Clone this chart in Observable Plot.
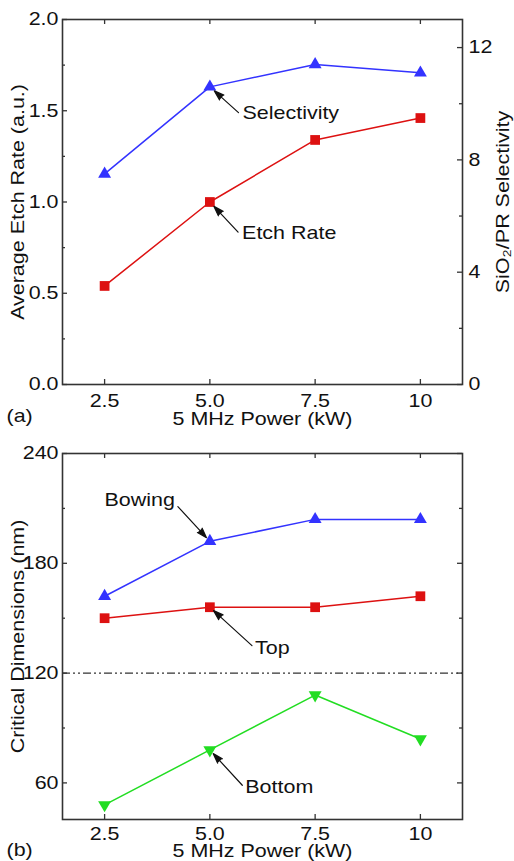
<!DOCTYPE html>
<html>
<head>
<meta charset="utf-8">
<script src="https://cdn.jsdelivr.net/npm/d3@7"></script>
<script src="https://cdn.jsdelivr.net/npm/@observablehq/plot@0.6"></script>
<style>
  body { margin: 0; background: #fff; }
  #chart svg { display: block; }
</style>
</head>
<body>
<div id="chart"></div>
<script>
// ---- data ----------------------------------------------------------------
const powerKW = [2.5, 5.0, 7.5, 10];
const powerTickLabels = ["2.5", "5.0", "7.5", "10"];

// panel (a): etch rate (left axis) and SiO2/PR selectivity (right axis)
const etchRate = [0.54, 1.00, 1.34, 1.46];
const selectivity = [7.5, 10.6, 11.4, 11.1];
const etchTicks = [0, 0.5, 1.0, 1.5, 2.0];
const etchMinorTicks = [0.25, 0.75, 1.25, 1.75];
const selTicks = [0, 4, 8, 12];
const selMinorTicks = [2, 6, 10];

// panel (b): critical dimensions (nm)
const cdBowing = [162, 192, 204, 204];
const cdTop = [150, 156, 156, 162];
const cdBottom = [48, 78, 108, 84];
const cdTicks = [60, 120, 180, 240];
const cdMinorTicks = [90, 150, 210];
const cdReference = [120];

// annotation labels: text, arrow tail (data units), series index the arrow points at
const notesA = [
  {text: "Selectivity", x: 5.68, y: 1.49, series: "sel", i: 1},
  {text: "Etch Rate", x: 5.67, y: 0.835, series: "etch", i: 1}
];
const notesB = [
  {text: "Bowing", x: 4.24, y: 211, series: "bow", i: 1, side: "left"},
  {text: "Top", x: 6.0, y: 135, series: "top", i: 1},
  {text: "Bottom", x: 5.77, y: 58.7, series: "bot", i: 1}
];

// ---- shared look ---------------------------------------------------------
const W = 514;
const FONT = "'Liberation Sans', Arial, Helvetica, sans-serif";
const FONT_SIZE = "18.5px";
const TEXT_WIDEN = 1.16; // glyphs are drawn a little wider than the font's own
const INK = "#333";
const BLUE = "#3333ff", RED = "#dd1111", GREEN = "#22dd22";
const xDomain = [1.5, 11];
const selMax = 13, etchMax = 2;
const k = etchMax / selMax; // maps selectivity onto the etch-rate scale

function inwardTicks({plotW, plotH, yMajor, yMinor, xMajor, rightMajor, rightMinor}) {
  const st = {stroke: INK, strokeWidth: 1.3};
  const marks = [];
  const yl = (vals, len) => Plot.tickY(vals, {y: d => d, insetRight: plotW - len, ...st});
  const yr = (vals, len) => Plot.tickY(vals, {y: d => d, insetLeft: plotW - len, ...st});
  marks.push(yl(yMajor, 5), yl(yMinor, 3));
  marks.push(yr(rightMajor, 5), yr(rightMinor, 3));
  marks.push(Plot.tickX(xMajor, {x: d => d, insetTop: plotH - 5, ...st}));
  marks.push(Plot.tickX(xMajor, {x: d => d, insetBottom: plotH - 5, ...st}));
  return marks;
}

const fmtX = d => powerTickLabels[powerKW.indexOf(d)];
const baseStyle = {fontFamily: FONT, fontSize: FONT_SIZE, color: "#111", background: "#fff"};
const title = {lineAnchor: "middle", textAnchor: "middle", fill: "#111", text: d => d};

// ---- panel (a) -----------------------------------------------------------
const mA = {top: 19, right: 52, bottom: 46, left: 62};
const hA = 430;
const etchData = powerKW.map((p, i) => ({p, v: etchRate[i]}));
const selData = powerKW.map((p, i) => ({p, v: selectivity[i] * k}));
const seriesA = {etch: etchData, sel: selData};
const arrowsA = notesA.map(n => ({...n, x2: seriesA[n.series][n.i].p, y2: seriesA[n.series][n.i].v}));

const plotA = Plot.plot({
  width: W, height: hA,
  marginTop: mA.top, marginRight: mA.right, marginBottom: mA.bottom, marginLeft: mA.left,
  style: baseStyle,
  x: {domain: xDomain},
  y: {domain: [0, etchMax]},
  marks: [
    ...inwardTicks({
      plotW: W - mA.left - mA.right, plotH: hA - mA.top - mA.bottom,
      yMajor: etchTicks, yMinor: etchMinorTicks, xMajor: powerKW,
      rightMajor: selTicks.map(v => v * k), rightMinor: selMinorTicks.map(v => v * k)
    }),
    Plot.axisX(powerKW, {tickSize: 0, tickPadding: 9, tickFormat: fmtX, label: null}),
    Plot.axisY(etchTicks, {anchor: "left", tickSize: 0, tickPadding: 4, tickFormat: d => d.toFixed(1), label: null}),
    Plot.axisY(selTicks.map(v => v * k), {anchor: "right", tickSize: 0, tickPadding: 6,
      tickFormat: d => String(Math.round(d / k)), label: null}),
    Plot.line(selData, {x: "p", y: "v", stroke: BLUE, strokeWidth: 1.5}),
    Plot.line(etchData, {x: "p", y: "v", stroke: RED, strokeWidth: 1.5}),
    Plot.dot(selData, {x: "p", y: "v", symbol: "triangle", r: 4.8, fill: BLUE}),
    Plot.dot(etchData, {x: "p", y: "v", symbol: "square", r: 5.5, fill: RED}),
    Plot.arrow(arrowsA, {x1: "x", y1: "y", x2: "x2", y2: "y2", insetEnd: 6,
      headLength: 13, headAngle: 36, stroke: "#111", fill: "#111", strokeWidth: 1.2}),
    Plot.text(arrowsA, {x: "x", y: "y", text: "text", textAnchor: "start", dx: 4, dy: 1, fill: "#111"}),
    Plot.frame({stroke: INK, strokeWidth: 1.6}),
    Plot.text(["Average Etch Rate (a.u.)"], {...title, frameAnchor: "left", rotate: -90, dx: -44}),
    Plot.text(["SiO\u2082/PR Selectivity"], {...title, frameAnchor: "right", rotate: -90, dx: 41}),
    Plot.text(["5 MHz Power (kW)"], {...title, frameAnchor: "bottom", dy: 35}),
    Plot.text(["(a)"], {...title, frameAnchor: "bottom-left", textAnchor: "start", dx: -56, dy: 32})
  ]
});

// ---- panel (b) -----------------------------------------------------------
const mB = {top: 23, right: 52, bottom: 42, left: 62};
const hB = 431;
const bowData = powerKW.map((p, i) => ({p, v: cdBowing[i]}));
const topData = powerKW.map((p, i) => ({p, v: cdTop[i]}));
const botData = powerKW.map((p, i) => ({p, v: cdBottom[i]}));
const seriesB = {bow: bowData, top: topData, bot: botData};
const arrowsB = notesB.map(n => ({...n, x2: seriesB[n.series][n.i].p, y2: seriesB[n.series][n.i].v}));

const plotB = Plot.plot({
  width: W, height: hB,
  marginTop: mB.top, marginRight: mB.right, marginBottom: mB.bottom, marginLeft: mB.left,
  style: baseStyle,
  x: {domain: xDomain},
  y: {domain: [40, 240]},
  marks: [
    ...inwardTicks({
      plotW: W - mB.left - mB.right, plotH: hB - mB.top - mB.bottom,
      yMajor: cdTicks, yMinor: cdMinorTicks, xMajor: powerKW,
      rightMajor: cdTicks, rightMinor: cdMinorTicks
    }),
    Plot.axisX(powerKW, {tickSize: 0, tickPadding: 7, tickFormat: fmtX, label: null}),
    Plot.axisY(cdTicks, {anchor: "left", tickSize: 0, tickPadding: 4, tickFormat: d => String(d), label: null}),
    Plot.ruleY(cdReference, {stroke: INK, strokeWidth: 1.4, strokeDasharray: "8,3,2,3,2,3"}),
    Plot.line(bowData, {x: "p", y: "v", stroke: BLUE, strokeWidth: 1.5}),
    Plot.line(topData, {x: "p", y: "v", stroke: RED, strokeWidth: 1.5}),
    Plot.line(botData, {x: "p", y: "v", stroke: GREEN, strokeWidth: 1.5}),
    Plot.dot(bowData, {x: "p", y: "v", symbol: "triangle", r: 4.8, fill: BLUE}),
    Plot.dot(topData, {x: "p", y: "v", symbol: "square", r: 5.5, fill: RED}),
    Plot.dot(botData, {x: "p", y: "v", symbol: "triangle", rotate: 180, r: 4.8, fill: GREEN}),
    Plot.arrow(arrowsB, {x1: "x", y1: "y", x2: "x2", y2: "y2", insetEnd: 5,
      headLength: 13, headAngle: 36, stroke: "#111", fill: "#111", strokeWidth: 1.2}),
    Plot.text(arrowsB.filter(n => n.side === "left"), {x: "x", y: "y", text: "text", textAnchor: "end", dx: -3, dy: -6, fill: "#111"}),
    Plot.text(arrowsB.filter(n => n.side !== "left"), {x: "x", y: "y", text: "text", textAnchor: "start", dx: 3, dy: 2, fill: "#111"}),
    Plot.frame({stroke: INK, strokeWidth: 1.6}),
    Plot.text(["Critical Dimensions (nm)"], {...title, frameAnchor: "left", rotate: -90, dx: -44}),
    Plot.text(["5 MHz Power (kW)"], {...title, frameAnchor: "bottom", dy: 32}),
    Plot.text(["(b)"], {...title, frameAnchor: "bottom-left", textAnchor: "start", dx: -56, dy: 31})
  ]
});

const root = document.getElementById("chart");
root.append(plotA, plotB);

// Stretch every label along its baseline to the wider lettering of the figure.
// The text is re-anchored at its start and shifted by hand so that centred and
// right-aligned labels keep their anchor point after stretching.
for (const svg of [plotA, plotB]) {
  svg.querySelectorAll("text").forEach(t => {
    const len = t.getComputedTextLength();
    if (!(len > 0)) return;
    const wide = len * TEXT_WIDEN;
    const anchor = getComputedStyle(t).textAnchor;
    const shift = anchor === "middle" ? -wide / 2 : anchor === "end" ? -wide : 0;
    const x0 = parseFloat(t.getAttribute("x")) || 0;
    t.setAttribute("x", (x0 + shift).toFixed(2));
    t.setAttribute("text-anchor", "start");
    t.style.textAnchor = "start";
    t.setAttribute("textLength", wide.toFixed(1));
    t.setAttribute("lengthAdjust", "spacingAndGlyphs");
  });
}
</script>
</body>
</html>
